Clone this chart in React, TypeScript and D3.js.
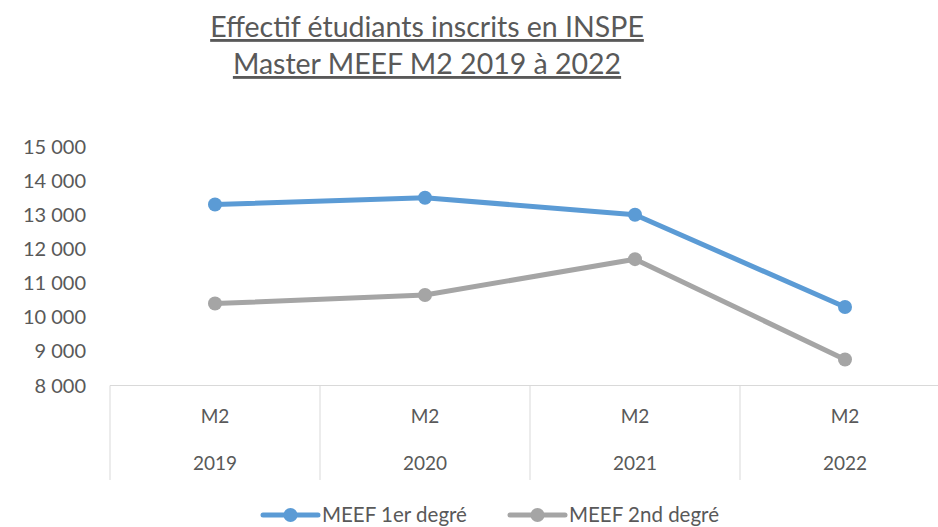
import React from 'react';
import * as d3 from 'd3';

// Effectifs M2 MEEF par année
const YEARS = ['2019', '2020', '2021', '2022'];
const LEVEL = 'M2';
const SERIES_NAMES = ['MEEF 1er degré', 'MEEF 2nd degré'];
const PREMIER_DEGRE = [13300, 13500, 13000, 10300];
const SECOND_DEGRE = [10400, 10650, 11700, 8760];
const Y_TICKS = [8000, 9000, 10000, 11000, 12000, 13000, 14000, 15000];
const TITLE_LINES = ['Effectif étudiants inscrits en INSPE', 'Master MEEF M2 2019 à 2022'];

const COLORS = ['#5B9BD5', '#A5A5A5'];
const TEXT = '#595959';
const AXIS = '#D9D9D9';
const FONT = 'Lato, "Open Sans", sans-serif';

const W = 938;
const H = 527;
const M = { left: 110, right: -12, top: 146.5, bottom: 141.5 };

export default function App() {
  const x = d3.scaleBand<string>().domain(YEARS).range([M.left, W - M.right]);
  const y = d3.scaleLinear().domain([8000, 15000]).range([H - M.bottom, M.top]);
  const fmt = (v: number) => d3.format(',')(v).replace(/,/g, ' ');
  const cx = (d: string) => (x(d) ?? 0) + x.bandwidth() / 2;

  const line = d3.line<number>()
    .x((_, i) => cx(YEARS[i]))
    .y(d => y(d));

  const series = [PREMIER_DEGRE, SECOND_DEGRE];
  const y0 = y(8000);

  return (
    <svg width={W} height={H} style={{ display: 'block', position: 'absolute', left: 0, top: 0 }}>
      <rect width={W} height={H} fill="#fff" />

      {/* titre */}
      {TITLE_LINES.map((t, i) => (
        <text key={t} x={427} y={37 + i * 37} textAnchor="middle" fontFamily={FONT}
          fontSize={28.5} fill={TEXT} textDecoration="underline">{t}</text>
      ))}

      {/* axe Y */}
      {Y_TICKS.map(t => (
        <text key={t} x={86} y={y(t)} dy="0.35em" textAnchor="end" fontFamily={FONT}
          fontSize={20} fill={TEXT}>{fmt(t)}</text>
      ))}

      {/* axe X à deux niveaux */}
      <line x1={M.left} x2={W - M.right} y1={y0} y2={y0} stroke={AXIS} strokeWidth={1.2} />
      {YEARS.map(yr => (
        <g key={yr}>
          <line x1={x(yr)} x2={x(yr)} y1={y0} y2={480} stroke={AXIS} />
          <text x={cx(yr)} y={416} dy="0.35em" textAnchor="middle" fontFamily={FONT}
            fontSize={19} fill={TEXT}>{LEVEL}</text>
          <text x={cx(yr)} y={463} dy="0.35em" textAnchor="middle" fontFamily={FONT}
            fontSize={19} fill={TEXT}>{yr}</text>
        </g>
      ))}

      {/* séries */}
      {series.map((s, k) => (
        <g key={SERIES_NAMES[k]}>
          <path d={line(s) ?? ''} fill="none" stroke={COLORS[k]} strokeWidth={5}
            strokeLinejoin="round" strokeLinecap="round" />
          {s.map((v, i) => (
            <circle key={i} cx={cx(YEARS[i])} cy={y(v)} r={7} fill={COLORS[k]} />
          ))}
        </g>
      ))}

      {/* légende */}
      {SERIES_NAMES.map((n, k) => {
        const lx = k === 0 ? 263 : 510;
        return (
          <g key={n}>
            <line x1={lx} x2={lx + 55} y1={515} y2={515} stroke={COLORS[k]} strokeWidth={5}
              strokeLinecap="round" />
            <circle cx={lx + 27.5} cy={515} r={7} fill={COLORS[k]} />
            <text x={lx + 59} y={515} dy="0.35em" fontFamily={FONT} fontSize={20.5}
              fill={TEXT}>{n}</text>
          </g>
        );
      })}
    </svg>
  );
}
